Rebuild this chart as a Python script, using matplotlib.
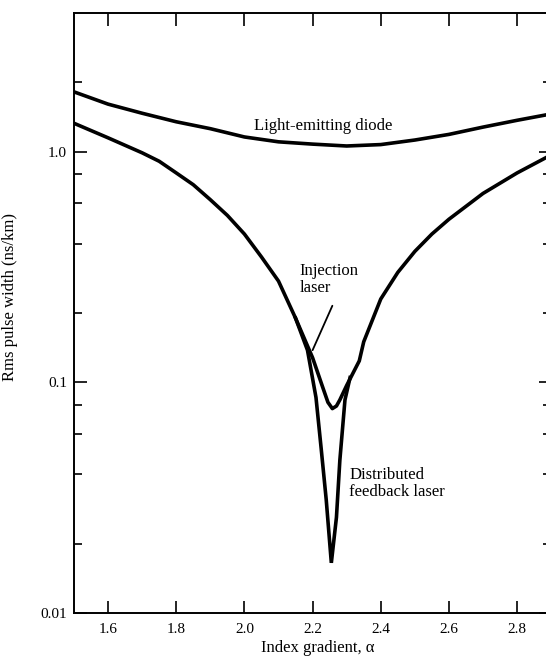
import matplotlib.pyplot as plt
from matplotlib.ticker import FixedLocator, NullFormatter

plt.rcParams['font.family'] = ['Liberation Serif', 'DejaVu Serif']

# rms pulse width (ns/km) against index gradient alpha
led_alpha = [1.5, 1.6, 1.7, 1.8, 1.9, 2.0, 2.1, 2.2, 2.3, 2.4, 2.5, 2.6, 2.7, 2.8, 2.9]
led_width = [1.82, 1.61, 1.47, 1.35, 1.26, 1.16, 1.105, 1.08, 1.06, 1.075, 1.125, 1.19, 1.28, 1.37, 1.46]

laser_alpha = [1.5, 1.6, 1.7, 1.75, 1.8, 1.85, 1.9, 1.95, 2.0, 2.05, 2.1, 2.15, 2.2, 2.23, 2.245,
               2.258, 2.27, 2.28, 2.3, 2.337, 2.35, 2.4, 2.45, 2.5, 2.55, 2.6, 2.7, 2.8, 2.9]
laser_width = [1.33, 1.15, 0.99, 0.91, 0.81, 0.72, 0.62, 0.53, 0.44, 0.35, 0.275, 0.19, 0.128,
               0.095, 0.082, 0.077, 0.079, 0.084, 0.097, 0.124, 0.15, 0.23, 0.30, 0.37, 0.44,
               0.51, 0.66, 0.81, 0.97]

# the distributed feedback laser follows the injection laser outside the dip
dfb_alpha = [2.15, 2.185, 2.21, 2.225, 2.24, 2.255, 2.27, 2.28, 2.295, 2.31]
dfb_width = [0.19, 0.138, 0.086, 0.052, 0.031, 0.0165, 0.026, 0.046, 0.084, 0.105]

x_ticks = [1.6, 1.8, 2.0, 2.2, 2.4, 2.6, 2.8]
x_tick_labels = ['1.6', '1.8', '2.0', '2.2', '2.4', '2.6', '2.8']
y_ticks = [0.01, 0.1, 1.0]
y_tick_labels = ['0.01', '0.1', '1.0']
y_minor = [0.02, 0.04, 0.06, 0.08, 0.2, 0.4, 0.6, 0.8, 2.0]

fig = plt.figure(figsize=(5.46, 6.63), dpi=100)
ax = fig.add_axes([0.1355, 0.0754, 0.874, 0.905])

lw = 2.6
ax.plot(led_alpha, led_width, color='black', lw=lw, solid_capstyle='round')
ax.plot(laser_alpha, laser_width, color='black', lw=lw, solid_joinstyle='round')
ax.plot(dfb_alpha, dfb_width, color='black', lw=lw, solid_joinstyle='miter')

ax.set_yscale('log')
ax.set_xlim(1.5, 2.9)
ax.set_ylim(0.01, 4.0)

ax.xaxis.set_major_locator(FixedLocator(x_ticks))
ax.set_xticklabels(x_tick_labels)
ax.yaxis.set_major_locator(FixedLocator(y_ticks))
ax.set_yticklabels(y_tick_labels)
ax.yaxis.set_minor_locator(FixedLocator(y_minor))
ax.yaxis.set_minor_formatter(NullFormatter())

ax.tick_params(axis='both', which='both', direction='in', top=True, right=True,
               width=1.2, labelsize=11)
ax.tick_params(axis='x', which='major', length=9, pad=7)
ax.tick_params(axis='y', which='major', length=9, pad=5)
ax.tick_params(axis='y', which='minor', length=6)
for s in ax.spines.values():
    s.set_linewidth(1.4)

ax.set_xlabel('Index gradient, α', fontsize=12)
ax.xaxis.set_label_coords(0.51, -0.045)
ax.set_ylabel('Rms pulse width (ns/km)', fontsize=12)
ax.yaxis.set_label_coords(-0.118, 0.527)

ax.text(2.23, 1.3, 'Light-emitting diode', fontsize=12, ha='center', va='center')
ax.text(2.162, 0.279, 'Injection\nlaser', fontsize=12, ha='left', va='center',
        linespacing=1.05)
ax.annotate('', xy=(2.2, 0.138), xytext=(2.258, 0.215),
            arrowprops=dict(arrowstyle='-', color='black', lw=1.3,
                            shrinkA=0, shrinkB=0))
ax.text(2.308, 0.0365, 'Distributed\nfeedback laser', fontsize=12, ha='left', va='center',
        linespacing=1.05)

fig.savefig('out.png', dpi=100)
